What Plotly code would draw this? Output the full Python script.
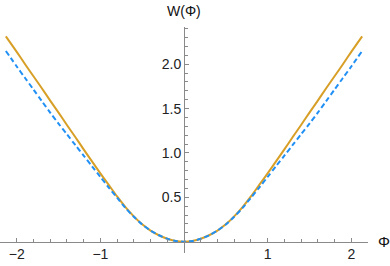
import plotly.graph_objects as go

# Right-half readings (the curves are symmetric in Phi)
phi_right = [0.0, 0.1, 0.2, 0.3, 0.4, 0.5, 0.6, 0.7, 0.8, 0.9, 1.0, 1.1, 1.2, 1.3,
             1.4, 1.5, 1.6, 1.7, 1.8, 1.9, 2.0, 2.13]
w_solid_right = [0.0, 0.008, 0.032, 0.072, 0.125, 0.195, 0.285, 0.39, 0.51, 0.64, 0.77,
                 0.905, 1.04, 1.18, 1.315, 1.455, 1.59, 1.73, 1.865, 2.0, 2.14, 2.315]
w_dashed_right = [0.0, 0.008, 0.032, 0.072, 0.125, 0.193, 0.28, 0.38, 0.495, 0.61, 0.73,
                  0.85, 0.97, 1.09, 1.21, 1.33, 1.455, 1.585, 1.715, 1.845, 1.975, 2.15]

x_tick_vals = [-2, -1, 1, 2]
x_tick_text = ["\u22122", "\u22121", "1", "2"]
y_tick_vals = [0.5, 1.0, 1.5, 2.0]
y_tick_text = ["0.5", "1.0", "1.5", "2.0"]

phi = [-p for p in reversed(phi_right[1:])] + phi_right
w_solid = list(reversed(w_solid_right[1:])) + w_solid_right
w_dashed = list(reversed(w_dashed_right[1:])) + w_dashed_right

X_RANGE = [-2.2, 2.2]
Y_RANGE = [-0.128, 2.42]

ORANGE = "#D89F26"
BLUE = "#2190F5"
AXIS = "#8a8a8a"
FONT = "Liberation Sans, Arial, sans-serif"

fig = go.Figure()
fig.add_trace(go.Scatter(x=phi, y=w_solid, mode="lines",
                         line=dict(color=ORANGE, width=2, shape="spline", smoothing=0.8),
                         hoverinfo="skip"))
fig.add_trace(go.Scatter(x=phi, y=w_dashed, mode="lines",
                         line=dict(color=BLUE, width=2, dash="5px,3px", shape="spline",
                                   smoothing=0.8),
                         hoverinfo="skip"))

y0_frac = (0 - Y_RANGE[0]) / (Y_RANGE[1] - Y_RANGE[0])
x0_frac = (0 - X_RANGE[0]) / (X_RANGE[1] - X_RANGE[0])

x_minor = [round(-2.2 + 0.2 * i, 2) for i in range(23)]
x_minor = [v for v in x_minor if abs(v - round(v)) > 1e-6]
y_minor = [round(0.1 * i, 2) for i in range(1, 25)]
y_minor = [v for v in y_minor if abs(v * 2 - round(v * 2)) > 1e-6]

fig.update_layout(
    width=390, height=266,
    margin=dict(l=0, r=22, t=27, b=13),
    plot_bgcolor="white", paper_bgcolor="white",
    showlegend=False,
    font=dict(family=FONT, size=14, color="#222222"),
    xaxis=dict(range=X_RANGE, showgrid=False, zeroline=False, showline=True,
               linecolor=AXIS, linewidth=1, anchor="free", position=y0_frac,
               tickvals=x_tick_vals, ticktext=x_tick_text, ticks="inside",
               ticklen=4, tickcolor=AXIS, tickwidth=1,
               minor=dict(tickvals=x_minor, ticks="inside", ticklen=2.5,
                          tickcolor=AXIS, tickwidth=1)),
    yaxis=dict(range=Y_RANGE, showgrid=False, zeroline=False, showline=True,
               linecolor=AXIS, linewidth=1, anchor="free", position=x0_frac,
               tickvals=y_tick_vals, ticktext=y_tick_text, ticks="inside",
               ticklen=4, tickcolor=AXIS, tickwidth=1,
               minor=dict(tickvals=y_minor, ticks="inside", ticklen=2.5,
                          tickcolor=AXIS, tickwidth=1)),
    annotations=[
        dict(text="\u03A6", x=1.0, y=0, xref="paper", yref="y", xanchor="left",
             yanchor="middle", xshift=8, showarrow=False,
             font=dict(family=FONT, size=15, color="#111111")),
        dict(text="W(\u03A6)", x=0, y=1.0, xref="x", yref="paper", xanchor="center",
             yanchor="bottom", yshift=6, showarrow=False,
             font=dict(family=FONT, size=14, color="#111111")),
    ],
)

fig.write_html("out.html",
               config={"displayModeBar": False, "staticPlot": True},
               post_script="document.body.style.margin='0px';document.body.style.padding='0px';")
